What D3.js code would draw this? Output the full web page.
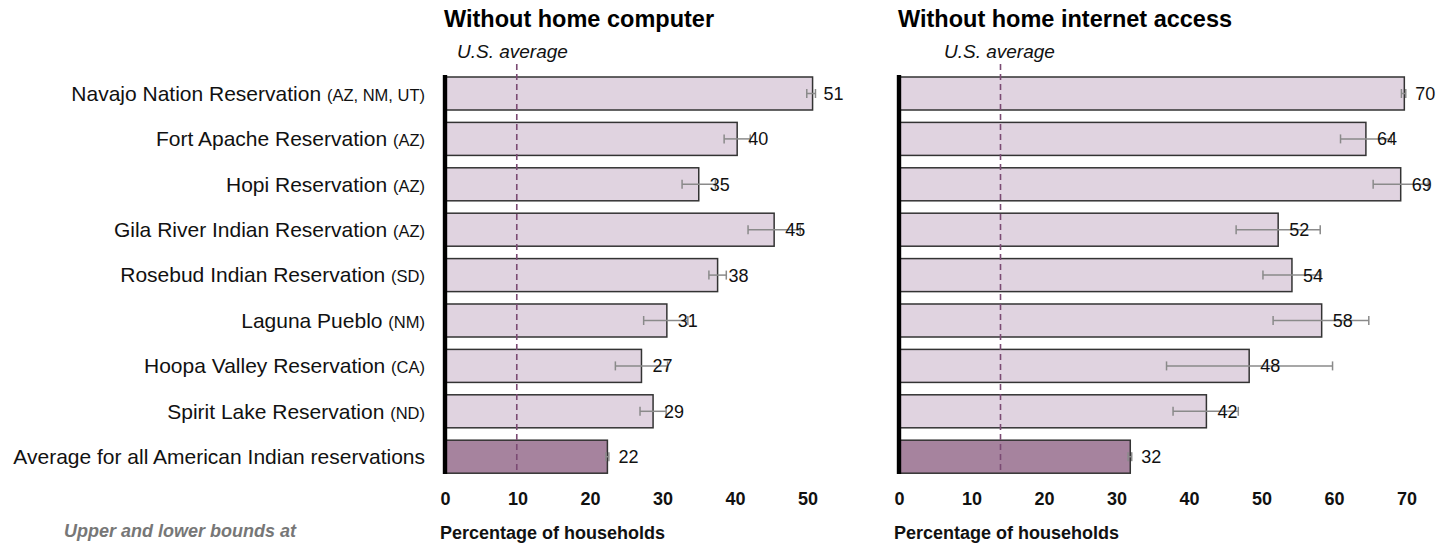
<!DOCTYPE html>
<html lang="en">
<head>
  <meta charset="utf-8">
  <title>Households without computer or internet</title>
  <script src="https://d3js.org/d3.v7.min.js" charset="utf-8"></script>
  <style type="text/css">
    body { margin: 0; background: #fff; }
    text { font-family: "Liberation Sans", Arial, sans-serif; }
  </style>
</head>
<body>
  <svg id="chart" width="1450" height="546" xmlns="http://www.w3.org/2000/svg"></svg>
  <script type="text/javascript">
    // data
    var places = ['Navajo Nation Reservation', 'Fort Apache Reservation', 'Hopi Reservation',
      'Gila River Indian Reservation', 'Rosebud Indian Reservation', 'Laguna Pueblo',
      'Hoopa Valley Reservation', 'Spirit Lake Reservation', 'Average for all American Indian reservations'];
    var states = ['AZ, NM, UT', 'AZ', 'AZ', 'AZ', 'SD', 'NM', 'CA', 'ND', ''];

    var computerValues = [50.7, 40.3, 35.0, 45.4, 37.6, 30.6, 27.1, 28.7, 22.4];
    var computerLow = [49.9, 38.5, 32.7, 41.8, 36.4, 27.4, 23.5, 26.9, 22.2];
    var computerHigh = [51.1, 42.1, 37.3, 49.0, 38.8, 33.5, 30.7, 30.5, 22.6];
    var computerLabels = ['51', '40', '35', '45', '38', '31', '27', '29', '22'];
    var computerTicks = [0, 10, 20, 30, 40, 50];
    var computerUS = 9.9;

    var internetValues = [69.7, 64.4, 69.2, 52.3, 54.2, 58.3, 48.3, 42.4, 31.9];
    var internetLow = [69.3, 60.9, 65.4, 46.5, 50.2, 51.6, 36.9, 37.8, 31.6];
    var internetHigh = [69.9, 67.9, 73.0, 58.1, 58.2, 64.8, 59.8, 46.8, 32.1];
    var internetLabels = ['70', '64', '69', '52', '54', '58', '48', '42', '32'];
    var internetTicks = [0, 10, 20, 30, 40, 50, 60, 70];
    var internetUS = 14.0;

    var svg = d3.select('#chart');

    var y = d3.scaleBand()
      .domain(places)
      .range([70.8, 70.8 + 9 * 45.4])
      .paddingInner(0.273)
      .paddingOuter(0.1365);

    // category labels
    var labels = svg.append('g').selectAll('text')
      .data(places)
      .enter()
      .append('text')
      .attr('x', 425)
      .attr('y', function(d) { return y(d) + y.bandwidth() / 2; })
      .attr('dy', '0.35em')
      .attr('text-anchor', 'end')
      .attr('font-size', '21px')
      .style('fill', '#111');
    labels.append('tspan').text(function(d, i) { return states[i] ? d + ' ' : d; });
    labels.append('tspan')
      .attr('font-size', '16.5px')
      .text(function(d, i) { return states[i] ? '(' + states[i] + ')' : ''; });

    svg.append('text')
      .attr('x', 64)
      .attr('y', 537)
      .attr('font-size', '18px')
      .attr('font-weight', 'bold')
      .attr('font-style', 'italic')
      .style('fill', '#777')
      .text('Upper and lower bounds at');

    function drawPanel(opts) {
      var x = d3.scaleLinear()
        .domain([0, opts.max])
        .range([opts.x0, opts.x0 + opts.max * 7.25]);
      var g = svg.append('g');

      g.append('text')
        .attr('x', opts.x0 - 1)
        .attr('y', 27)
        .attr('font-size', '23.5px')
        .attr('font-weight', 'bold')
        .style('fill', '#000')
        .text(opts.title);

      g.append('text')
        .attr('x', opts.x0 + opts.usTextDx)
        .attr('y', 58)
        .attr('font-size', '19px')
        .attr('font-style', 'italic')
        .style('fill', '#111')
        .text('U.S. average');

      g.selectAll('rect.bar')
        .data(opts.values)
        .enter()
        .append('rect')
        .attr('class', 'bar')
        .attr('x', x(0))
        .attr('y', function(d, i) { return y(places[i]); })
        .attr('width', function(d) { return x(d) - x(0); })
        .attr('height', y.bandwidth())
        .style('fill', function(d, i) { return i === places.length - 1 ? '#a6839e' : '#e0d3e0'; })
        .style('stroke', '#333')
        .style('stroke-width', 1.5);

      // error bars
      var err = g.selectAll('g.err')
        .data(opts.values)
        .enter()
        .append('g')
        .attr('class', 'err')
        .style('stroke', '#8a8a8a')
        .style('stroke-width', 1.5);
      err.append('line')
        .attr('x1', function(d, i) { return x(opts.low[i]); })
        .attr('x2', function(d, i) { return x(opts.high[i]); })
        .attr('y1', function(d, i) { return y(places[i]) + y.bandwidth() / 2; })
        .attr('y2', function(d, i) { return y(places[i]) + y.bandwidth() / 2; });
      err.append('line')
        .attr('x1', function(d, i) { return x(opts.low[i]); })
        .attr('x2', function(d, i) { return x(opts.low[i]); })
        .attr('y1', function(d, i) { return y(places[i]) + y.bandwidth() / 2 - 4.5; })
        .attr('y2', function(d, i) { return y(places[i]) + y.bandwidth() / 2 + 4.5; });
      err.append('line')
        .attr('x1', function(d, i) { return x(opts.high[i]); })
        .attr('x2', function(d, i) { return x(opts.high[i]); })
        .attr('y1', function(d, i) { return y(places[i]) + y.bandwidth() / 2 - 4.5; })
        .attr('y2', function(d, i) { return y(places[i]) + y.bandwidth() / 2 + 4.5; });

      // U.S. average line
      g.append('line')
        .attr('x1', x(opts.us))
        .attr('x2', x(opts.us))
        .attr('y1', 64)
        .attr('y2', 473)
        .style('stroke', '#7b4a73')
        .style('stroke-width', 1.6)
        .style('stroke-dasharray', '6,4');

      // value labels
      g.selectAll('text.val')
        .data(opts.values)
        .enter()
        .append('text')
        .attr('class', 'val')
        .attr('x', function(d) { return x(d) + 11; })
        .attr('y', function(d, i) { return y(places[i]) + y.bandwidth() / 2; })
        .attr('dy', '0.36em')
        .attr('font-size', '18px')
        .style('fill', '#111')
        .text(function(d, i) { return opts.labels[i]; });

      // thick baseline
      g.append('rect')
        .attr('x', x(0) - 2.2)
        .attr('y', 75)
        .attr('width', 4.4)
        .attr('height', 399)
        .style('fill', '#000');

      var axis = d3.axisBottom(x).tickValues(opts.ticks).tickSize(0).tickPadding(0);
      var ax = g.append('g')
        .attr('transform', 'translate(0,492)')
        .call(axis);
      ax.select('.domain').remove();
      ax.selectAll('text')
        .attr('font-size', '18px')
        .attr('font-weight', 'bold')
        .attr('font-family', '"Liberation Sans", Arial, sans-serif')
        .style('fill', '#111');

      g.append('text')
        .attr('x', opts.x0 - 5)
        .attr('y', 539)
        .attr('font-size', '18px')
        .attr('font-weight', 'bold')
        .style('fill', '#111')
        .text('Percentage of households');
    }

    drawPanel({
      title: 'Without home computer', x0: 445, max: 50,
      values: computerValues, low: computerLow, high: computerHigh,
      labels: computerLabels, ticks: computerTicks, us: computerUS, usTextDx: 12
    });
    drawPanel({
      title: 'Without home internet access', x0: 899, max: 70,
      values: internetValues, low: internetLow, high: internetHigh,
      labels: internetLabels, ticks: internetTicks, us: internetUS, usTextDx: 45
    });
  </script>
</body>
</html>
